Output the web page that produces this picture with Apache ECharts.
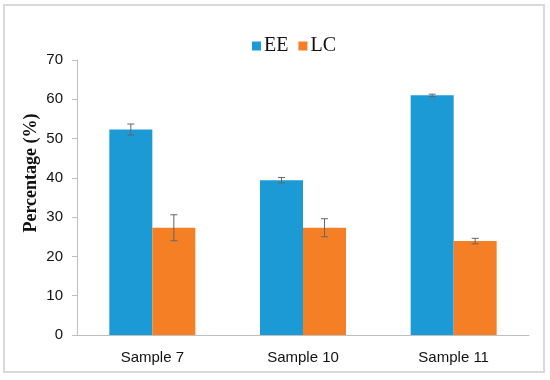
<!DOCTYPE html>
<html>
<head>
<meta charset="utf-8">
<script src="https://cdn.jsdelivr.net/npm/echarts@6/dist/echarts.min.js"></script>
<style>
html,body{margin:0;padding:0;background:#fff;}
#chart{width:550px;height:380px;}
</style>
</head>
<body>
<div id="chart"></div>
<script>
var categories = ['Sample 7', 'Sample 10', 'Sample 11'];
var eeValues = [52.3, 39.4, 61.0];
var eeErrors = [1.4, 0.7, 0.3];
var lcValues = [27.3, 27.3, 23.9];
var lcErrors = [3.3, 2.3, 0.7];
var yTicks = [0, 10, 20, 30, 40, 50, 60, 70];

var chart = echarts.init(document.getElementById('chart'));

function errorSeries(values, errors, offsetSign) {
  var data = values.map(function (v, i) { return [i, v - errors[i], v + errors[i]]; });
  return {
    type: 'custom',
    z: 10,
    silent: true,
    renderItem: function (params, api) {
      var i = api.value(0);
      var lo = api.coord([i, api.value(1)]);
      var hi = api.coord([i, api.value(2)]);
      var barW = 43;
      var x = lo[0] + offsetSign * barW / 2;
      var cap = 3.5;
      var style = { stroke: '#666', lineWidth: 1, fill: null };
      return {
        type: 'group',
        children: [
          { type: 'line', shape: { x1: x, y1: lo[1], x2: x, y2: hi[1] }, style: style },
          { type: 'line', shape: { x1: x - cap, y1: lo[1], x2: x + cap, y2: lo[1] }, style: style },
          { type: 'line', shape: { x1: x - cap, y1: hi[1], x2: x + cap, y2: hi[1] }, style: style }
        ]
      };
    },
    data: data
  };
}

var option = {
  animation: false,
  backgroundColor: '#fff',
  legend: {
    data: ['EE', 'LC'],
    top: 31,
    left: 247,
    itemWidth: 9,
    itemHeight: 9,
    itemGap: 10,
    icon: 'rect',
    textStyle: { fontFamily: 'Liberation Serif', fontSize: 20, color: '#111', padding: [0, 0, 0, -2] }
  },
  grid: { left: 77, right: 21, top: 60, bottom: 45 },
  xAxis: {
    type: 'category',
    data: categories,
    axisLine: { lineStyle: { color: '#bfbfbf', width: 1 } },
    axisTick: { show: false },
    axisLabel: { fontFamily: 'Liberation Sans', fontSize: 15, color: '#111', margin: 15 }
  },
  yAxis: {
    type: 'value',
    min: 0,
    max: 70,
    interval: 10,
    splitLine: { show: false },
    axisLine: { show: true, lineStyle: { color: '#bfbfbf', width: 1 } },
    axisTick: { show: true, length: 5, lineStyle: { color: '#bfbfbf' } },
    axisLabel: {
      fontFamily: 'Liberation Sans', fontSize: 15, color: '#111', margin: 14,
      formatter: function (v) { return yTicks.indexOf(v) >= 0 ? String(v) : ''; }
    }
  },
  graphic: [
    {
      type: 'rect',
      shape: { x: 4, y: 5, width: 540, height: 367 },
      style: { fill: null, stroke: '#d9d9d9', lineWidth: 2 },
      silent: true
    },
    {
      type: 'text',
      x: 31,
      y: 173,
      rotation: Math.PI / 2,
      style: {
        text: 'Percentage (%)',
        fontFamily: 'Liberation Serif',
        fontWeight: 'bold',
        fontSize: 18,
        fill: '#111',
        textAlign: 'center',
        textVerticalAlign: 'middle'
      }
    }
  ],
  series: [
    {
      name: 'EE',
      type: 'bar',
      data: eeValues,
      barWidth: 43,
      barGap: '0%',
      itemStyle: { color: '#1b9ad6' }
    },
    {
      name: 'LC',
      type: 'bar',
      data: lcValues,
      barWidth: 43,
      itemStyle: { color: '#f47f25' }
    },
    errorSeries(eeValues, eeErrors, -1),
    errorSeries(lcValues, lcErrors, 1)
  ]
};
chart.setOption(option);
</script>
</body>
</html>
